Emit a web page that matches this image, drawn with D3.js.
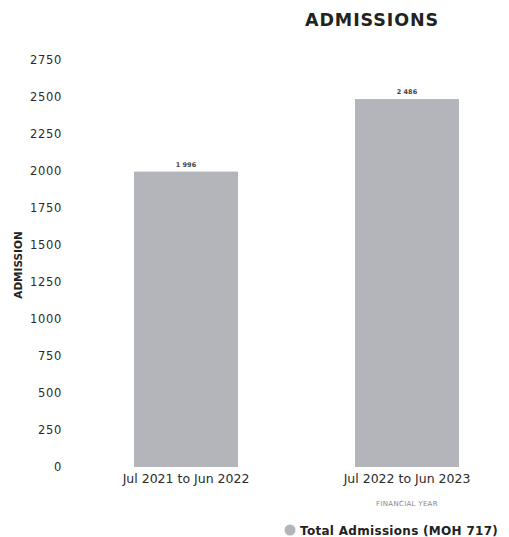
<!DOCTYPE html>
<html><head><meta charset="utf-8">
<script src="https://cdn.jsdelivr.net/npm/d3@7"></script>
<style>body{margin:0;background:#fff;} svg{display:block;font-family:"DejaVu Sans",Verdana,sans-serif;}</style>
</head><body>
<script>
const categories = ["Jul 2021 to Jun 2022", "Jul 2022 to Jun 2023"];
const admissions = [1996, 2486];
const valueLabels = ["1 996", "2 486"];
const yTicks = [0, 250, 500, 750, 1000, 1250, 1500, 1750, 2000, 2250, 2500, 2750];

const W = 509, H = 537;
const svg = d3.select("body").append("svg").attr("width", W).attr("height", H);

const y = d3.scaleLinear().domain([0, 2750]).range([467, 60]);
const x = d3.scaleBand().domain(categories).range([78.75, 514.25]).paddingInner(0.5294).paddingOuter(0.25);

const barColor = "#b4b5bb";

// y axis
const yAxis = d3.axisLeft(y).tickValues(yTicks).tickSize(0).tickPadding(0).tickFormat(d3.format("d"));
const gy = svg.append("g").attr("transform", "translate(62,0)").call(yAxis);
gy.attr("font-family", null).attr("font-size", null);
gy.select(".domain").remove();
gy.selectAll("text").attr("font-size", 11.5).attr("fill", "#2a2a2a").attr("letter-spacing", "0.7px");

// bars
svg.selectAll("rect.bar").data(admissions).enter().append("rect")
  .attr("class", "bar")
  .attr("x", (d, i) => x(categories[i]))
  .attr("width", x.bandwidth())
  .attr("y", d => y(d))
  .attr("height", d => y(0) - y(d))
  .attr("fill", barColor);

// value labels
svg.selectAll("text.vl").data(admissions).enter().append("text")
  .attr("class", "vl")
  .attr("x", (d, i) => x(categories[i]) + x.bandwidth() / 2)
  .attr("y", d => y(d) - 5)
  .attr("text-anchor", "middle")
  .attr("font-size", 6.5)
  .attr("font-weight", "bold")
  .attr("fill", "#444")
  .text((d, i) => valueLabels[i]);

// x axis
const xAxis = d3.axisBottom(x).tickSize(0).tickPadding(0);
const gx = svg.append("g").attr("transform", "translate(0,474)").call(xAxis);
gx.attr("font-family", null).attr("font-size", null);
gx.select(".domain").remove();
gx.selectAll("text").attr("font-size", 12.5).attr("fill", "#2a2a2a").attr("dy", "0.71em");

// x axis title
svg.append("text").attr("x", x(categories[1]) + x.bandwidth() / 2).attr("y", 506)
  .attr("text-anchor", "middle").attr("font-size", 7).attr("fill", "#888").attr("letter-spacing", "0.3px")
  .text("FINANCIAL YEAR");

// y axis title
svg.append("text").attr("transform", "translate(22,265) rotate(-90)")
  .attr("text-anchor", "middle").attr("font-size", 10.5).attr("font-weight", "bold").attr("fill", "#222")
  .text("ADMISSION");

// title
svg.append("text").attr("x", 372).attr("y", 26).attr("text-anchor", "middle")
  .attr("font-size", 17.5).attr("font-weight", "bold").attr("fill", "#222").attr("letter-spacing", "0.9px")
  .text("ADMISSIONS");

// legend
svg.append("circle").attr("cx", 290).attr("cy", 530).attr("r", 5.5).attr("fill", barColor);
svg.append("text").attr("x", 300).attr("y", 534.5).attr("font-size", 12).attr("font-weight", "bold")
  .attr("fill", "#222").attr("letter-spacing", "0.3px").text("Total Admissions (MOH 717)");
</script>
</body></html>
